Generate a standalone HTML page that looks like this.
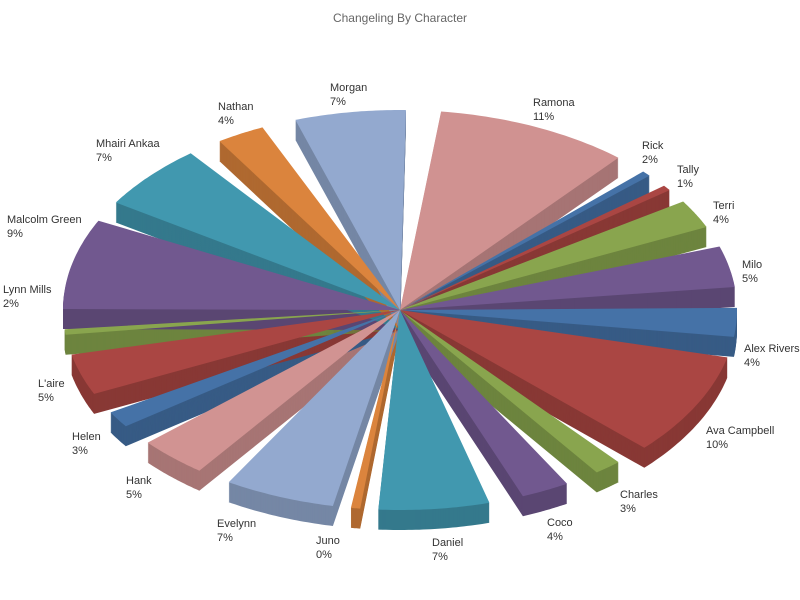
<!DOCTYPE html>
<html><head><meta charset="utf-8"><style>
html,body{margin:0;padding:0;background:#fff;}
svg{display:block;font-family:"Liberation Sans","DejaVu Sans",sans-serif;}
</style></head><body>
<svg id="s" width="800" height="600" xmlns="http://www.w3.org/2000/svg">
<text x="400" y="22" text-anchor="middle" font-size="12" fill="#666">Changeling By Character</text>
<g id="sides"></g><g id="tops"></g><g id="labels" font-size="11" fill="#333"></g>
</svg>
<script>
var d=[["Ramona",11,"#d09291"],["Rick",2,"#4572a7"],["Tally",1,"#aa4643"],["Terri",4,"#89a54e"],["Milo",5,"#71588f"],["Alex Rivers",4,"#4572a7"],["Ava Campbell",10,"#aa4643"],["Charles",3,"#89a54e"],["Coco",4,"#71588f"],["Daniel",7,"#4198af"],["Juno",0.5,"#db843d"],["Evelynn",7,"#93a9cf"],["Hank",5,"#d19392"],["Helen",3,"#4572a7"],["L'aire",5,"#aa4643"],["Lynn Mills",2,"#89a54e"],["Malcolm Green",9,"#71588f"],["Mhairi Ankaa",7,"#4198af"],["Nathan",4,"#db843d"],["Morgan",7,"#93a9cf"]];
var L={"Morgan":[330,87],"Ramona":[533,102],"Rick":[642,145],"Tally":[677,169],"Terri":[713,205],"Milo":[742,264],"Alex Rivers":[744,348],"Ava Campbell":[706,430],"Charles":[620,494],"Coco":[547,522],"Daniel":[432,542],"Juno":[316,540],"Evelynn":[217,523],"Hank":[126,480],"Helen":[72,436],"L'aire":[38,383],"Lynn Mills":[3,289],"Malcolm Green":[7,219],"Mhairi Ankaa":[96,143],"Nathan":[218,106]};
var pcts={"Juno":"0%"};
var tot=0;d.forEach(function(x){tot+=x[1];});
var cx=400,cy=310,rx=337,ry=200,dep=20,a=4;
function dark(c){var n=parseInt(c.slice(1),16);var r=(n>>16)*0.8|0,g=((n>>8)&255)*0.8|0,b=(n&255)*0.8|0;return "rgb("+r+","+g+","+b+")";}
var sides="",tops="",labs="";
d.forEach(function(x){
  var w=x[1]/tot*360, mid=a+w/2, hw=Math.max(w/2-3,0.8);
  var a0=mid-hw, a1=mid+hw;
  var pts=[[cx,cy]];
  for(var i=0;i<=30;i++){var t=(a0+(a1-a0)*i/30)*Math.PI/180;pts.push([cx+rx*Math.sin(t),cy-ry*Math.cos(t)]);}
  var p=function(o){return pts.map(function(q){return q[0].toFixed(1)+","+(q[1]+o).toFixed(1);}).join(" ");};
  for(var o=dep;o>0;o-=1) sides+='<polygon points="'+p(o)+'" fill="'+dark(x[2])+'"/>';
  tops+='<polygon points="'+p(0)+'" fill="'+x[2]+'"/>';
  a+=w;
  var l=L[x[0]];
  labs+='<text x="'+l[0]+'" y="'+(l[1]+4)+'">'+x[0]+'</text><text x="'+l[0]+'" y="'+(l[1]+18)+'">'+(pcts[x[0]]||(x[1]+"%"))+'</text>';
});
document.getElementById("sides").innerHTML=sides;
document.getElementById("tops").innerHTML=tops;
document.getElementById("labels").innerHTML=labs;
</script>
</body></html>
